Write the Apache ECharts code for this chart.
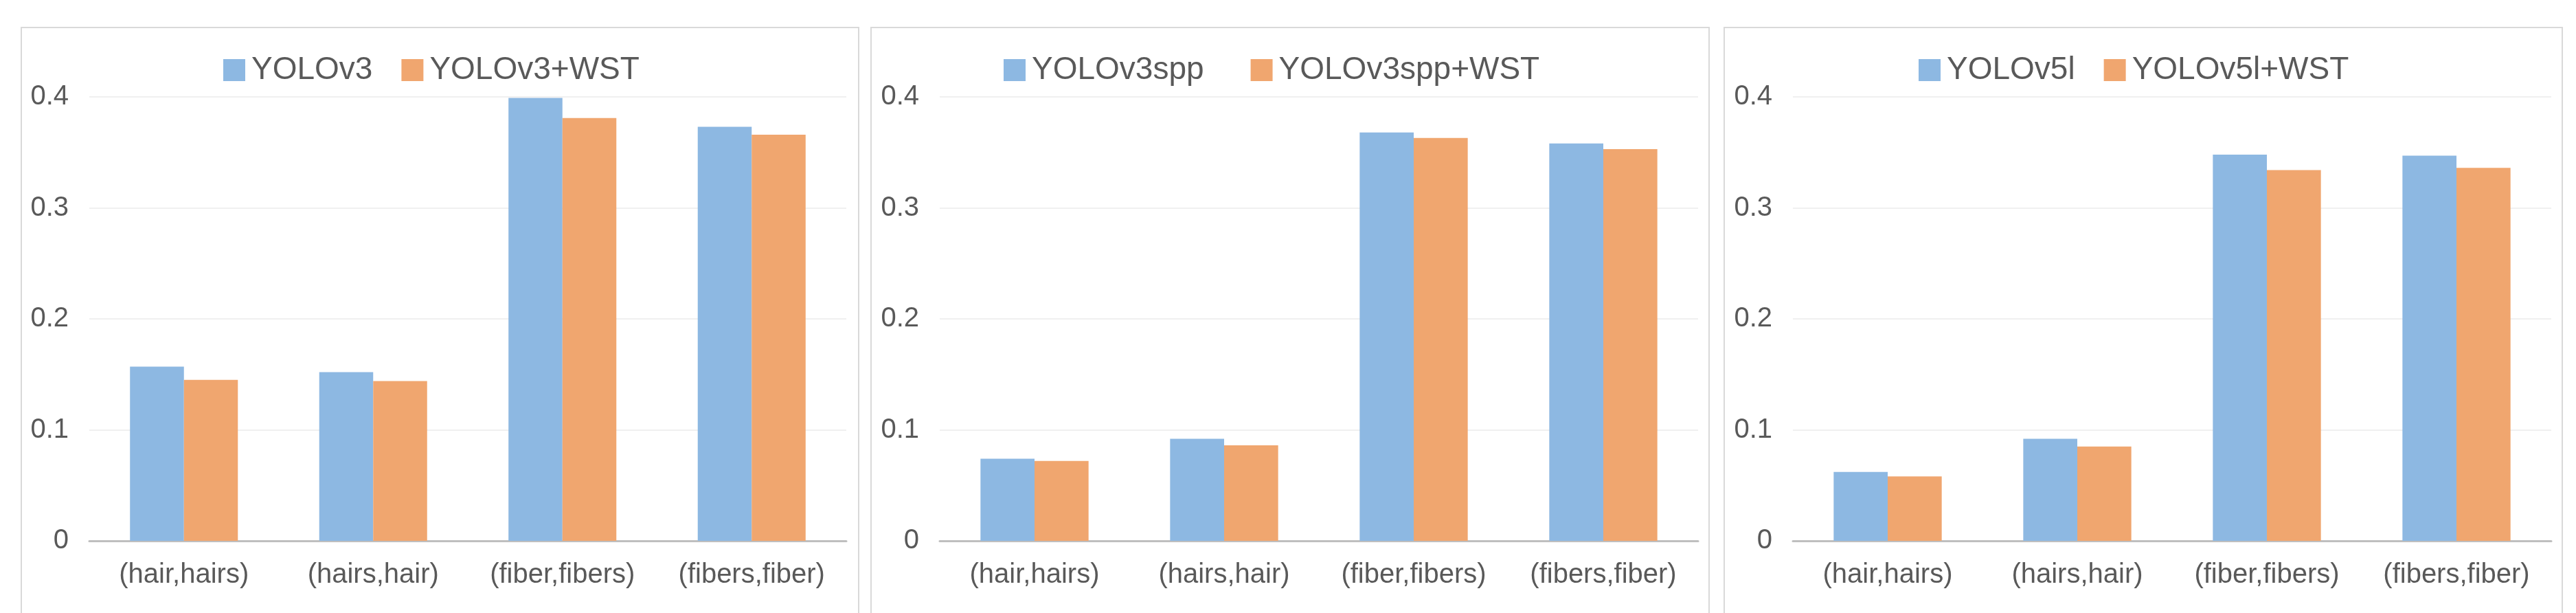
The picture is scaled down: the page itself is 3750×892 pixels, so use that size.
<!DOCTYPE html>
<html><head><meta charset="utf-8">
<script src="https://cdn.jsdelivr.net/npm/echarts@6/dist/echarts.min.js"></script>
<style>html,body{margin:0;background:#fff}#c{width:3750px;height:892px}</style>
</head><body><div id="c"></div>
<script>
const categories = ['(hair,hairs)','(hairs,hair)','(fiber,fibers)','(fibers,fiber)'];
const yTicks = [0, 0.1, 0.2, 0.3, 0.4];
const seriesNames = [['YOLOv3','YOLOv3+WST'],['YOLOv3spp','YOLOv3spp+WST'],['YOLOv5l','YOLOv5l+WST']];
const yolov3 = [0.157, 0.152, 0.399, 0.373];
const yolov3wst = [0.145, 0.144, 0.381, 0.366];
const yolov3spp = [0.074, 0.092, 0.368, 0.358];
const yolov3sppwst = [0.072, 0.086, 0.363, 0.353];
const yolov5l = [0.062, 0.092, 0.348, 0.347];
const yolov5lwst = [0.058, 0.085, 0.334, 0.336];
const values = [[yolov3, yolov3wst],[yolov3spp, yolov3sppwst],[yolov5l, yolov5lwst]];

const panels = [
  {box:[31,1250], plot:[130,1232], legendLeft:320, gap:42},
  {box:[1268,2488], plot:[1368,2472], legendLeft:1456, gap:68},
  {box:[2510,3730], plot:[2610,3714], legendLeft:2788, gap:42}
];
const blue = '#8db8e2', orange = '#f0a66f';
const txt = '#595959', font = 'Liberation Sans, Arial, sans-serif';
const opt = {backgroundColor:'#fff', animation:false, grid:[], xAxis:[], yAxis:[], series:[], legend:[], graphic:[]};
panels.forEach((p,i)=>{
  opt.graphic.push({type:'rect', shape:{x:p.box[0], y:40, width:p.box[1]-p.box[0], height:900}, style:{fill:'none', stroke:'#d9d9d9', lineWidth:2}, z:-1});
  opt.grid.push({left:p.plot[0], width:p.plot[1]-p.plot[0], top:141, bottom:105});
  opt.xAxis.push({type:'category', gridIndex:i, data:categories, axisTick:{show:false},
    axisLine:{lineStyle:{color:'#bfbfbf', width:3}},
    axisLabel:{color:txt, fontSize:40, fontFamily:font, margin:30, interval:0}});
  opt.yAxis.push({type:'value', gridIndex:i, min:yTicks[0], max:yTicks[yTicks.length-1], interval:0.1,
    axisLine:{show:false}, axisTick:{show:false},
    splitLine:{lineStyle:{color:'#f0f0f0', width:2}},
    axisLabel:{color:txt, fontSize:40, fontFamily:font, margin:30}});
  opt.legend.push({left:p.legendLeft, top:74, itemWidth:32, itemHeight:32, itemGap:p.gap,
    textStyle:{color:txt, fontSize:46, fontFamily:font, padding:[0,0,0,4]},
    data:seriesNames[i], icon:'rect'});
  seriesNames[i].forEach((n,j)=>{
    opt.series.push({type:'bar', name:n, xAxisIndex:i, yAxisIndex:i, data:values[i][j],
      barGap:'0%', barCategoryGap:'43%', itemStyle:{color: j? orange : blue}});
  });
});
echarts.init(document.getElementById('c')).setOption(opt);
</script></body></html>
